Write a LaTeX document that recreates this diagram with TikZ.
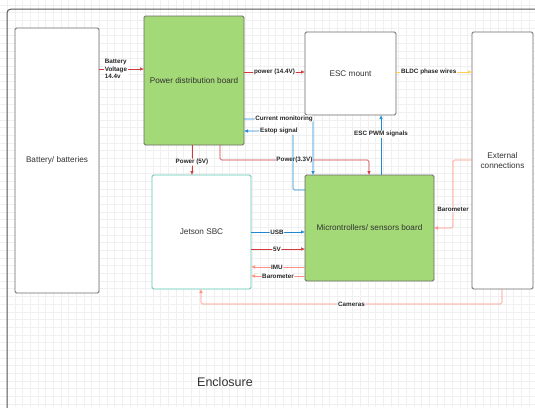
\documentclass[tikz,border=0pt]{standalone}
\usepackage{fontspec}
\setmainfont{Liberation Sans}
\usepackage{tikz}
\usetikzlibrary{arrows.meta}

\definecolor{pwrred}{HTML}{D0393E}
\definecolor{sigblue}{HTML}{1F88D2}
\definecolor{salmon}{HTML}{FF8F80}
\definecolor{bldcyel}{HTML}{FFCF4F}
\definecolor{boardgreen}{HTML}{A3D977}
\definecolor{jetteal}{HTML}{5CC2B0}
\definecolor{boxgray}{HTML}{6B6B6B}
\definecolor{txtgray}{HTML}{333333}
\definecolor{gridgray}{HTML}{F0F0F0}

\begin{document}
\begin{tikzpicture}[x=1pt, y=-1pt,
  box/.style={draw=boxgray, line width=0.8pt, rounded corners=1.5pt, fill=white,
    inner sep=0pt, outer sep=0pt, text=txtgray, font=\fontsize{8.2}{10}\selectfont, align=center},
  lbl/.style={fill=white, inner sep=0.6pt, text=black!85, font=\bfseries\fontsize{6.3}{7.2}\selectfont},
  tip/.style={-{Latex[length=4pt,width=3.6pt]}},
  pwr/.style={tip, draw=pwrred, line width=0.6pt, rounded corners=1.5pt},
  sig/.style={tip, draw=sigblue, line width=0.6pt, rounded corners=1.5pt},
  sens/.style={tip, draw=salmon, line width=0.6pt, rounded corners=1.5pt},
  bldc/.style={tip, draw=bldcyel, line width=0.6pt}]
\clip (0,0) rectangle (535,407);
\fill[white] (0,0) rectangle (535,407);
% background grid
\foreach \gx in {7.33,15,...,540} \draw[gridgray, line width=0.6pt] (\gx,0) -- (\gx,407);
\foreach \gy in {5,12.67,...,410} \draw[gridgray, line width=0.6pt] (0,\gy) -- (535,\gy);
% enclosure
\draw[boxgray!80!black, line width=1pt, rounded corners=4pt] (7,9) rectangle (570,440);
\node[text=txtgray, font=\fontsize{12.5}{14}\selectfont] (encl) at (225,382) {Enclosure};

% blocks
\node[box, minimum width=84, minimum height=265] (bat) at (57,160.5) {Battery/ batteries};
\node[box, fill=boardgreen, minimum width=100, minimum height=129] (pdb) at (194,80.5) {Power distribution board};
\node[box, minimum width=91, minimum height=83] (esc) at (350.5,73.5) {ESC mount};
\node[box, minimum width=61, minimum height=257] (ext) at (502.5,160.5) {External\\connections};
\node[box, draw=jetteal, minimum width=99, minimum height=114] (jet) at (201.5,232) {Jetson SBC};
\node[box, fill=boardgreen, minimum width=129, minimum height=106] (mcu) at (369.5,228) {Microntrollers/ sensors board};

% power lines
\draw[pwr] (bat.east |- 0,69) -- (pdb.west |- 0,69);
\node[lbl, anchor=west, align=left] (batv) at (104,69) {Battery\\Voltage\\14.4v};
\draw[pwr] (pdb.east |- 0,72) -- node[lbl, pos=0.5]{power (14.4V)} (esc.west |- 0,72);
\draw[pwr] (pdb.south -| 192,0) -- node[lbl, pos=0.57]{Power (5V)} (jet.north -| 192,0);
\draw[pwr] (pdb.south -| 220,0) -- (220,160) -- node[lbl, pos=0.5]{Power(3.3V)} (369,160) -- (mcu.north -| 369,0);
\draw[pwr] (jet.east |- 0,249) -- node[lbl, pos=0.48]{5V} (mcu.west |- 0,249);
\draw[bldc] (esc.east |- 0,72) -- node[lbl, pos=0.43]{BLDC phase wires} (ext.west |- 0,72);

% signals
\draw[sig] (pdb.east |- 0,119) -- node[lbl, pos=0.58]{Current monitoring} (313,119) -- (mcu.north -| 313,0);
\draw[sig] (mcu.west |- 0,190) -- (293,190) -- (293,131) -- node[lbl, pos=0.29]{Estop signal} (pdb.east |- 0,131);
\draw[sig] (mcu.north -| 381,0) -- node[lbl, pos=0.68]{ESC PWM signals} (esc.south -| 381,0);
\draw[sig] (jet.east |- 0,232) -- node[lbl, pos=0.48]{USB} (mcu.west |- 0,232);

% sensor data
\draw[sens] (mcu.west |- 0,267) -- node[lbl, pos=0.52]{IMU} (jet.east |- 0,267);
\draw[sens] (mcu.west |- 0,276) -- node[lbl, pos=0.5]{Barometer} (jet.east |- 0,276);
\draw[sens] (ext.west |- 0,160) -- (453,160) -- node[lbl, pos=0.73]{Barometer} (453,228) -- (mcu.east |- 0,228);
\draw[sens] (ext.south -| 502,0) -- (502,304) -- node[lbl, pos=0.5]{Cameras} (201,304) -- (jet.south -| 201,0);
\end{tikzpicture}
\end{document}
